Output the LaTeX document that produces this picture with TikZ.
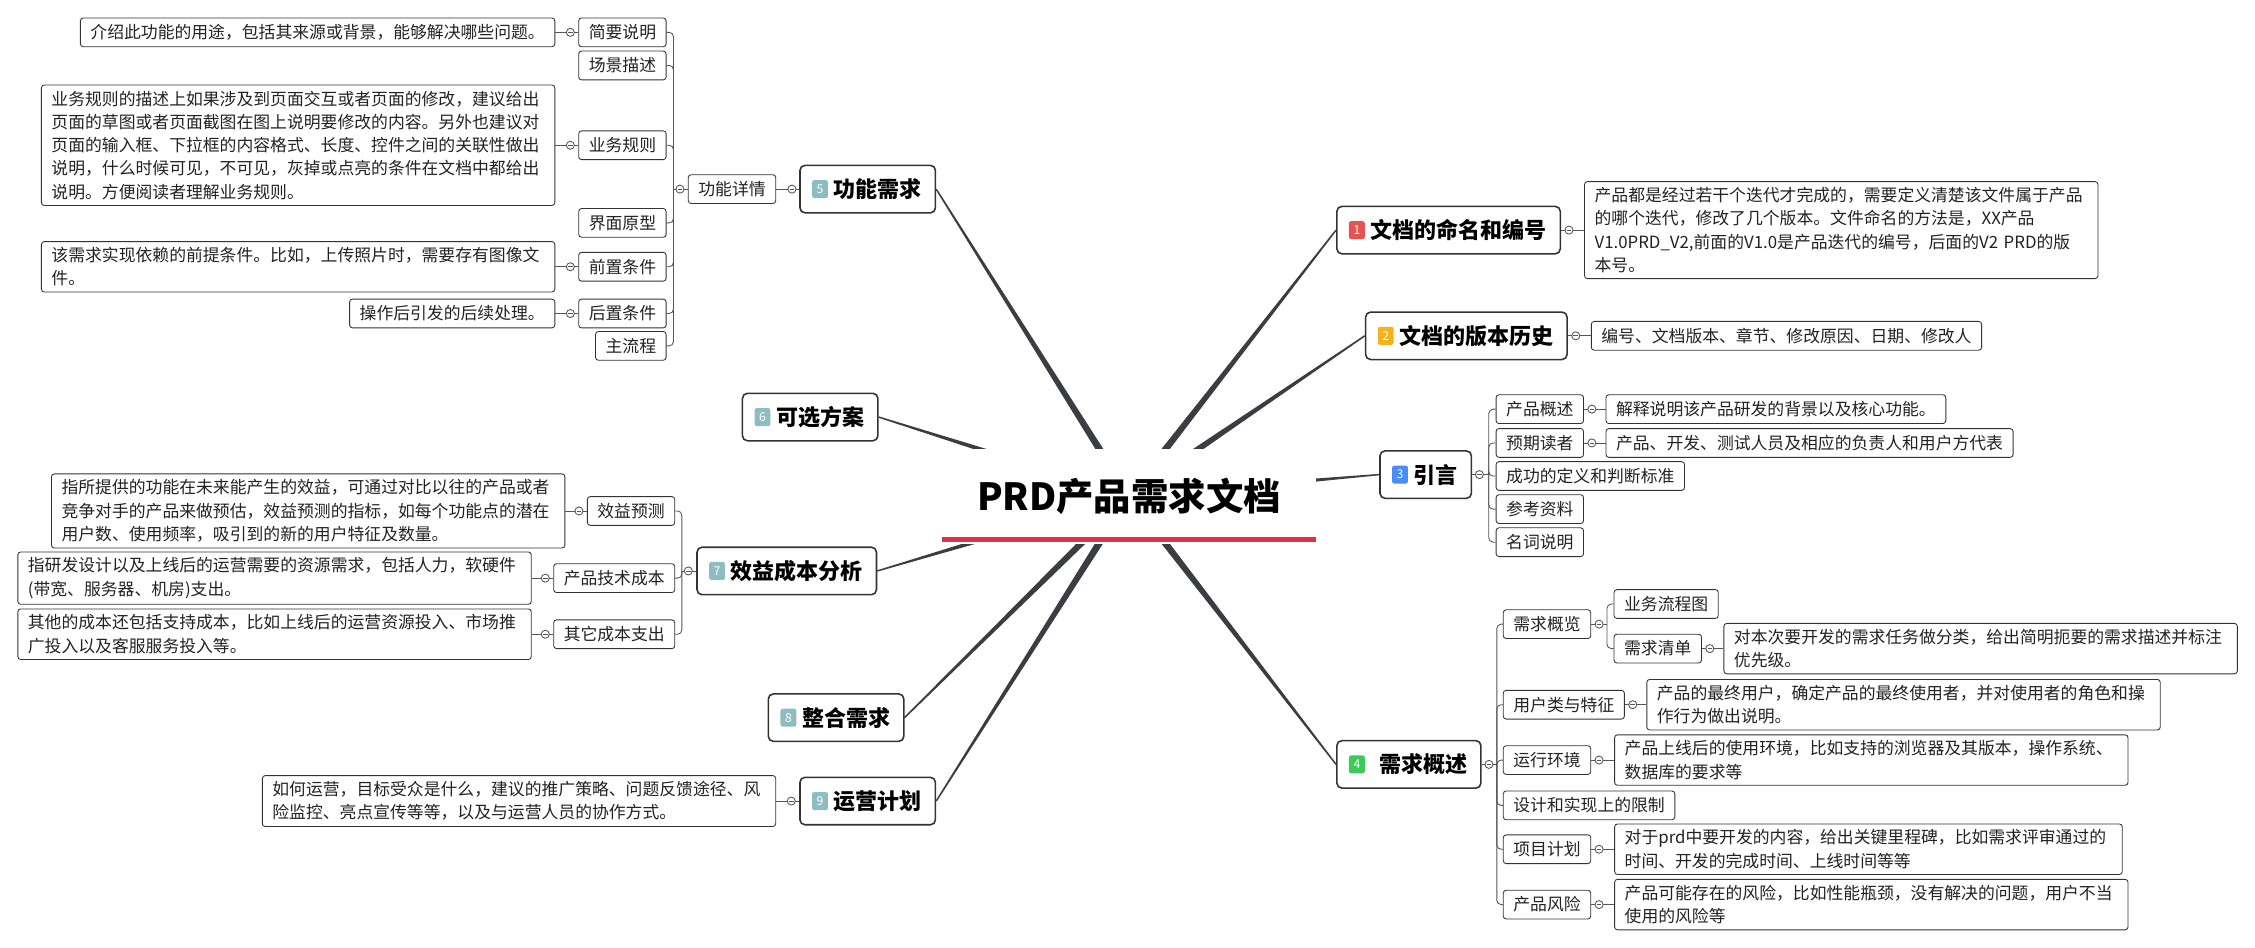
\documentclass[tikz,border=0pt]{standalone}
\usepackage{fontspec}
\setmainfont{Noto Sans CJK SC}
\usepackage{tikz}
\usetikzlibrary{calc,positioning,backgrounds}
\definecolor{ink}{HTML}{222222}
\definecolor{edge}{HTML}{333333}
\definecolor{wire}{HTML}{555555}
\definecolor{branch}{HTML}{3A3D42}
\definecolor{rule}{HTML}{DC2F4A}
\definecolor{bred}{HTML}{E55353}
\definecolor{borange}{HTML}{F6B21B}
\definecolor{bblue}{HTML}{4A8BF5}
\definecolor{bgreen}{HTML}{3CCB5B}
\definecolor{bteal}{HTML}{8DBDC1}
\tikzset{
  rootnode/.style={fill=white, minimum width=260pt, minimum height=66pt, inner sep=0pt, text=black, font=\bfseries\fontsize{26}{30}\selectfont},
  topic/.style={draw=edge, line width=1.1pt, rounded corners=3.5pt, fill=white, text=black, minimum height=33pt, inner xsep=9.5pt, inner ysep=0pt, font=\bfseries\fontsize{15.3}{18}\selectfont},
  badge/.style={fill=#1, rounded corners=1.5pt, text=white, minimum width=11pt, minimum height=12.5pt, inner sep=0pt, font=\fontsize{8.5}{9}\selectfont},
  leaf/.style={draw=edge, line width=0.6pt, rounded corners=2pt, fill=white, text=ink, minimum height=20pt, inner xsep=7pt, inner ysep=2pt, font=\fontsize{11.7}{16.2}\selectfont},
  note/.style={leaf, text width=343pt, align=left, inner ysep=4pt},
  link/.style={draw=wire, line width=0.6pt},
  elbow/.style={link, rounded corners=3pt},
  trunk/.style={fill=branch},
  underline/.style={draw=rule, line width=4pt},
  fold/.pic={\draw[link, fill=white] (0,0) circle (2.8pt); \draw[link] (-1.6pt,0) -- (1.6pt,0);}
}
\newcommand{\trunk}[1]{\fill[trunk] ($(prd.center)!2.7pt!90:(#1)$) -- ($(#1)!0.5pt!-90:(prd.center)$) -- ($(#1)!0.5pt!90:(prd.center)$) -- ($(prd.center)!2.7pt!-90:(#1)$) -- cycle;}

\begin{document}
\begin{tikzpicture}[x=1pt, y=-1pt]
  \useasboundingbox (0,0) rectangle (1568,659);

  % centre
  \node[rootnode] (prd) at (785,345) {PRD产品需求文档};
  \draw[underline] ([yshift=3pt]prd.south west) -- ([yshift=3pt]prd.south east);

  % main topics
  \node[topic, anchor=west] (n1) at (929,160) {\hspace{14pt}文档的命名和编号};
  \node[topic, anchor=west] (n2) at (949,233.5) {\hspace{14pt}文档的版本历史};
  \node[topic, anchor=west] (n3) at (959,330) {\hspace{14pt}引言};
  \node[topic, anchor=west] (n4) at (929,531.5) {\hspace{20pt}需求概述};
  \node[topic, anchor=east] (n5) at (651,131.5) {\hspace{14pt}功能需求};
  \node[topic, anchor=east] (n6) at (611,290) {\hspace{14pt}可选方案};
  \node[topic, anchor=east] (n7) at (610,397) {\hspace{14pt}效益成本分析};
  \node[topic, anchor=east] (n8) at (629,499) {\hspace{14pt}整合需求};
  \node[topic, anchor=east] (n9) at (651,557) {\hspace{14pt}运营计划};

  \node[badge=bred] (b1) at ([xshift=14.5pt]n1.west) {1};
  \node[badge=borange] (b2) at ([xshift=14.5pt]n2.west) {2};
  \node[badge=bblue] (b3) at ([xshift=14.5pt]n3.west) {3};
  \node[badge=bgreen] (b4) at ([xshift=14.5pt]n4.west) {4};
  \node[badge=bteal] (b5) at ([xshift=14.5pt]n5.west) {5};
  \node[badge=bteal] (b6) at ([xshift=14.5pt]n6.west) {6};
  \node[badge=bteal] (b7) at ([xshift=14.5pt]n7.west) {7};
  \node[badge=bteal] (b8) at ([xshift=14.5pt]n8.west) {8};
  \node[badge=bteal] (b9) at ([xshift=14.5pt]n9.west) {9};

  \begin{pgfonlayer}{background}
    \fill[white] (0,0) rectangle (1568,659);
    \trunk{n1.west} \trunk{n2.west} \trunk{n3.west} \trunk{n4.west}
    \trunk{n5.east} \trunk{n6.east} \trunk{n7.east} \trunk{n8.east} \trunk{n9.east}
  \end{pgfonlayer}

  % 1, 2
  \node[note, right=16pt of n1] (d1) {产品都是经过若干个迭代才完成的，需要定义清楚该文件属于产品\\的哪个迭代，修改了几个版本。文件命名的方法是，XX产品\\V1.0PRD\_V2,前面的V1.0是产品迭代的编号，后面的V2 PRD的版\\本号。};
  \draw[link] (n1.east) -- (d1.west);
  \pic at ([xshift=5.5pt]n1.east) {fold};
  \node[leaf, right=16pt of n2] (d2) {编号、文档版本、章节、修改原因、日期、修改人};
  \draw[link] (n2.east) -- (d2.west);
  \pic at ([xshift=5.5pt]n2.east) {fold};

  % 3
  \node[leaf, anchor=west] (c31) at (1040,284.5) {产品概述};
  \node[leaf, anchor=west] (c32) at (1040,308) {预期读者};
  \node[leaf, anchor=west] (c33) at (1040,331) {成功的定义和判断标准};
  \node[leaf, anchor=west] (c34) at (1040,354) {参考资料};
  \node[leaf, anchor=west] (c35) at (1040,377) {名词说明};
  \coordinate (k3) at ([xshift=11.5pt]n3.east);
  \draw[link] (n3.east) -- (k3);
  \foreach \ch in {c31,c32,c33,c34,c35} \draw[elbow] (k3) |- (\ch.west);
  \pic at ([xshift=5pt]n3.east) {fold};
  \node[leaf, right=15pt of c31] (d31) {解释说明该产品研发的背景以及核心功能。};
  \node[leaf, right=15pt of c32] (d32) {产品、开发、测试人员及相应的负责人和用户方代表};
  \foreach \ch in {31,32} {
    \draw[link] (c\ch.east) -- (d\ch.west);
    \pic at ([xshift=5.5pt]c\ch.east) {fold};
  }

  % 4
  \node[leaf, anchor=west] (c41) at (1045,434) {需求概览};
  \node[leaf, anchor=west] (c42) at (1045,490) {用户类与特征};
  \node[leaf, anchor=west] (c43) at (1045,528.5) {运行环境};
  \node[leaf, anchor=west] (c44) at (1045,560) {设计和实现上的限制};
  \node[leaf, anchor=west] (c45) at (1045,590.5) {项目计划};
  \node[leaf, anchor=west] (c46) at (1045,629) {产品风险};
  \coordinate (k4) at ([xshift=10.5pt]n4.east);
  \draw[link] (n4.east) -- (k4);
  \foreach \ch in {c41,c42,c43,c44,c45,c46} \draw[elbow] (k4) |- (\ch.west);
  \pic at ([xshift=5pt]n4.east) {fold};

  \node[leaf, anchor=west] (c411) at (1122,420) {业务流程图};
  \node[leaf, anchor=west] (c412) at (1122,451) {需求清单};
  \coordinate (k41) at ([xshift=11pt]c41.east);
  \draw[link] (c41.east) -- (k41);
  \foreach \ch in {c411,c412} \draw[elbow] (k41) |- (\ch.west);
  \pic at ([xshift=5.5pt]c41.east) {fold};

  \node[note, right=15pt of c412] (d412) {对本次要开发的需求任务做分类，给出简明扼要的需求描述并标注\\优先级。};
  \node[note, right=15pt of c42] (d42) {产品的最终用户，确定产品的最终使用者，并对使用者的角色和操\\作行为做出说明。};
  \node[note, right=16pt of c43] (d43) {产品上线后的使用环境，比如支持的浏览器及其版本，操作系统、\\数据库的要求等};
  \node[note, text width=339pt, right=16pt of c45] (d45) {对于prd中要开发的内容，给出关键里程碑，比如需求评审通过的\\时间、开发的完成时间、上线时间等等};
  \node[note, right=16pt of c46] (d46) {产品可能存在的风险，比如性能瓶颈，没有解决的问题，用户不当\\使用的风险等};
  \foreach \ch in {412,42,43,45,46} {
    \draw[link] (c\ch.east) -- (d\ch.west);
    \pic at ([xshift=5.5pt]c\ch.east) {fold};
  }

  % 5
  \node[leaf, left=16pt of n5] (c5) {功能详情};
  \draw[link] (n5.west) -- (c5.east);
  \pic at ([xshift=-5pt]n5.west) {fold};
  \node[leaf, anchor=east] (c51) at (463.5,22.5) {简要说明};
  \node[leaf, anchor=east] (c52) at (463.5,45.5) {场景描述};
  \node[leaf, anchor=east] (c53) at (463.5,101) {业务规则};
  \node[leaf, anchor=east] (c54) at (463.5,155) {界面原型};
  \node[leaf, anchor=east] (c55) at (463.5,185.5) {前置条件};
  \node[leaf, anchor=east] (c56) at (463.5,218) {后置条件};
  \node[leaf, anchor=east] (c57) at (463.5,240.5) {主流程};
  \coordinate (k5) at ([xshift=-10pt]c5.west);
  \draw[link] (c5.west) -- (k5);
  \foreach \ch in {c51,c52,c53,c54,c55,c56,c57} \draw[elbow] (k5) |- (\ch.east);
  \pic at ([xshift=-5.5pt]c5.west) {fold};

  \node[leaf, left=16pt of c51] (d51) {介绍此功能的用途，包括其来源或背景，能够解决哪些问题。};
  \node[note, left=16pt of c53] (d53) {业务规则的描述上如果涉及到页面交互或者页面的修改，建议给出\\页面的草图或者页面截图在图上说明要修改的内容。另外也建议对\\页面的输入框、下拉框的内容格式、长度、控件之间的关联性做出\\说明，什么时候可见，不可见，灰掉或点亮的条件在文档中都给出\\说明。方便阅读者理解业务规则。};
  \node[note, left=16pt of c55] (d55) {该需求实现依赖的前提条件。比如，上传照片时，需要存有图像文\\件。};
  \node[leaf, left=16pt of c56] (d56) {操作后引发的后续处理。};
  \foreach \ch in {51,53,55,56} {
    \draw[link] (c\ch.west) -- (d\ch.east);
    \pic at ([xshift=-5.5pt]c\ch.west) {fold};
  }

  % 7
  \node[leaf, anchor=east] (c71) at (469.5,355.3) {效益预测};
  \node[leaf, anchor=east] (c72) at (469.5,402) {产品技术成本};
  \node[leaf, anchor=east] (c73) at (469.5,441) {其它成本支出};
  \coordinate (k7) at ([xshift=-10pt]n7.west);
  \draw[link] (n7.west) -- (k7);
  \foreach \ch in {c71,c72,c73} \draw[elbow] (k7) |- (\ch.east);
  \pic at ([xshift=-5.5pt]n7.west) {fold};

  \node[note, left=15pt of c71] (d71) {指所提供的功能在未来能产生的效益，可通过对比以往的产品或者\\竞争对手的产品来做预估，效益预测的指标，如每个功能点的潜在\\用户数、使用频率，吸引到的新的用户特征及数量。};
  \node[note, left=15pt of c72] (d72) {指研发设计以及上线后的运营需要的资源需求，包括人力，软硬件\\(带宽、服务器、机房)支出。};
  \node[note, left=15pt of c73] (d73) {其他的成本还包括支持成本，比如上线后的运营资源投入、市场推\\广投入以及客服服务投入等。};
  \foreach \ch in {71,72,73} {
    \draw[link] (c\ch.west) -- (d\ch.east);
    \pic at ([xshift=-5.5pt]c\ch.west) {fold};
  }

  % 9
  \node[note, left=16pt of n9] (d9) {如何运营，目标受众是什么，建议的推广策略、问题反馈途径、风\\险监控、亮点宣传等等，以及与运营人员的协作方式。};
  \draw[link] (n9.west) -- (d9.east);
  \pic at ([xshift=-5.5pt]n9.west) {fold};
\end{tikzpicture}
\end{document}
